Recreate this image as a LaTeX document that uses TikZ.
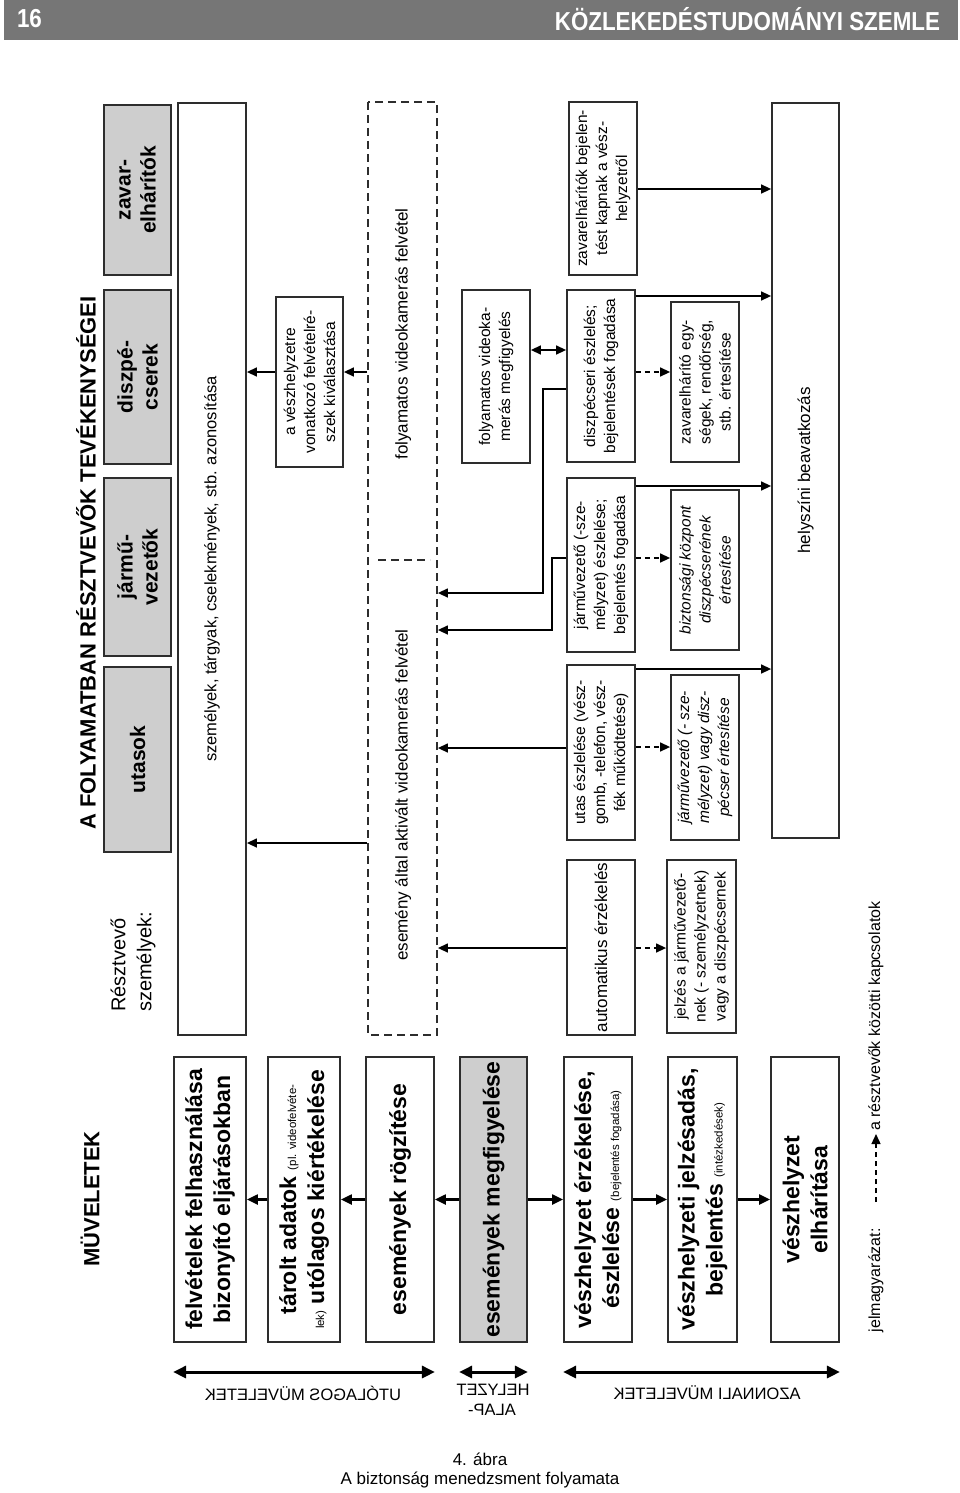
\documentclass[tikz,border=0pt]{standalone}
\usepackage{fontspec}
\setmainfont{Liberation Sans}
\usetikzlibrary{arrows.meta}
\definecolor{boxgray}{RGB}{206,206,206}
\definecolor{headgray}{RGB}{118,118,118}
\definecolor{edge}{RGB}{45,45,45}
\newcommand\fbig{\fontsize{23}{28}\selectfont\bfseries}
\newcommand\fsm{\fontsize{15.5}{20}\selectfont}
\newcommand\fpar{\fontsize{11.5}{13}\selectfont\mdseries}
\newcommand\fpart{\fontsize{21}{25}\selectfont\bfseries}
\newcommand\fmid{\fontsize{17}{20}\selectfont}
\begin{document}
\begin{tikzpicture}[x=1pt,y=-1pt,
  box/.style={draw=edge, line width=1.8pt, rotate=90, inner sep=2pt, align=center},
  sbox/.style={box, font=\fsm},
  bbox/.style={box, font=\fbig, minimum width=285, minimum height=68},
  pbox/.style={box, fill=boxgray, font=\fpart, minimum height=67},
  dbox/.style={draw=edge, line width=1.8pt, dash pattern=on 8pt off 5pt, rotate=90},
  arr/.style={line width=1.4pt, -{Triangle[length=10pt,width=9pt]}},
  darr/.style={arr, dash pattern=on 5pt off 4pt},
  barr/.style={line width=2.2pt, -{Triangle[length=11pt,width=10pt]}},
  dbl/.style={line width=3pt, {Triangle[length=13pt,width=12pt]}-{Triangle[length=13pt,width=12pt]}},
  mirr/.style={xscale=-1, inner sep=0pt, font=\fontsize{16.5}{20}\selectfont},
  rtext/.style={rotate=90, inner sep=0pt},
]
\useasboundingbox (0,0) rectangle (960,1493);
\fill[white] (0,0) rectangle (960,1493);
% header
\fill[headgray] (4,0) rectangle (958,40);
\node[anchor=west, text=white, font=\fontsize{26}{26}\selectfont\bfseries, xscale=0.86] (pnum) at (14,19) {16};
\node[anchor=east, text=white, font=\fontsize{26}{26}\selectfont\bfseries, xscale=0.86] (jname) at (943,19) {KÖZLEKEDÉSTUDOMÁNYI SZEMLE};
% caption
\node[font=\fontsize{17}{20}\selectfont] (cap1) at (480,1459) {4. ábra};
\node[font=\fontsize{17}{20}\selectfont] (cap2) at (480,1480) {A biztonság menedzsment folyamata};
% titles
\node[rtext, font=\fontsize{22}{26}\selectfont\bfseries] (tmuv) at (90,1199) {MÜVELETEK};
\node[rtext, font=\fontsize{22}{26}\selectfont\bfseries] (tres) at (86,563) {A FOLYAMATBAN RÉSZTVEVŐK TEVÉKENYSÉGEI};
\node[rtext, anchor=west, align=left, font=\fontsize{20}{26}\selectfont] (tsz) at (133,1012) {Résztvevő\\személyek:};
% participants
\node[pbox, minimum width=185] (putas) at (137.5,759.5) {utasok};
\node[pbox, minimum width=178] (pjarmu) at (137.5,567) {jármű-\\vezetők};
\node[pbox, minimum width=174] (pdisz) at (137.5,377) {diszpé-\\cserek};
\node[pbox, minimum width=170] (pzavar) at (137.5,190) {zavar-\\elhárítók};
% left column
\node[sbox, minimum width=932, minimum height=68, font=\fontsize{16.5}{20}\selectfont] (azon) at (212,569) {személyek, tárgyak, cselekmények, stb. azonosítása};
\node[sbox, minimum width=170, minimum height=67] (kiv) at (309.5,382) {a vészhelyzetre\\vonatkozó felvételré-\\szek kiválasztása};
\node[dbox, minimum width=933, minimum height=69] (dash) at (402.5,568.5) {};
\node[rtext, font=\fmid] (dtop) at (403,334) {folyamatos videokamerás felvétel};
\node[rtext, font=\fmid] (dbot) at (403,795) {esemény által aktivált videokamerás felvétel};
\draw[draw=edge, line width=1.8pt, dash pattern=on 8pt off 5pt] (378,560) -- (430,560);
\node[sbox, minimum width=173, minimum height=68] (fvm) at (496,376.5) {folyamatos videoka-\\merás megfigyelés};
% right group
\node[sbox, minimum width=173, minimum height=68] (zb) at (603,188.5) {zavarelhárítók bejelen-\\tést kapnak a vész-\\helyzetről};
\node[sbox, minimum width=172, minimum height=68] (dsz) at (601,376) {diszpécseri észlelés;\\bejelentések fogadása};
\node[sbox, minimum width=174, minimum height=68] (jsz) at (601,565) {járművezető (-sze-\\mélyzet) észlelése;\\bejelentés fogadása};
\node[sbox, minimum width=175, minimum height=68] (ut) at (601,752.5) {utas észlelése (vész-\\gomb, -telefon, vész-\\fék működtetése)};
\node[sbox, minimum width=175, minimum height=68, font=\fmid] (aut) at (601,947.5) {automatikus érzékelés};
% next column
\node[sbox, minimum width=160, minimum height=68] (zeg) at (705,382) {zavarelhárító egy-\\ségek, rendőrség,\\stb. értesítése};
\node[sbox, minimum width=160, minimum height=68, font=\fsm\itshape] (bk) at (705,570) {biztonsági központ\\diszpécserének\\értesítése};
\node[sbox, minimum width=165, minimum height=68, font=\fsm\itshape] (jv) at (705,757.5) {járművezető (- sze-\\mélyzet) vagy disz-\\pécser értesítése};
\node[sbox, minimum width=173, minimum height=69] (jel) at (701.5,946.5) {jelzés a járművezető-\\nek (- személyzetnek)\\vagy a diszpécsernek};
\node[sbox, minimum width=735, minimum height=67, font=\fmid] (hb) at (805.5,470.5) {helyszíni beavatkozás};
% bottom operations
\node[bbox, minimum height=72] (f1) at (210,1199.5) {felvételek felhasználása\\bizonyító eljárásokban};
\node[bbox, minimum height=72] (f2) at (304,1199.5) {tárolt adatok {\fpar (pl. videofelvéte-}\\{\fpar lek)} utólagos kiértékelése};
\node[bbox] (f3) at (400,1199.5) {események rögzítése};
\node[bbox, minimum height=67, fill=boxgray] (f4) at (493.5,1199.5) {események megfigyelése};
\node[bbox] (f5) at (598,1199.5) {vészhelyzet érzékelése,\\észlelése {\fpar (bejelentés fogadása)}};
\node[bbox, minimum height=69] (f6) at (702.5,1199.5) {vészhelyzeti jelzésadás,\\bejelentés {\fpar (intézkedések)}};
\node[bbox] (f7) at (805,1199.5) {vészhelyzet\\elhárítása};
% connectors
\draw[arr] (dash.north |- 0,843) -- (azon.south |- 0,843);
\draw[arr] (kiv.north |- 0,372) -- (azon.south |- 0,372);
\draw[arr] (dash.north |- 0,372) -- (kiv.south |- 0,372);
\draw[line width=1.4pt, {Triangle[length=10pt,width=9pt]}-{Triangle[length=10pt,width=9pt]}] (fvm.south |- 0,350) -- (dsz.north |- 0,350);
\draw[arr] (dsz.north |- 0,389) -- (543,389) |- (dash.south |- 0,593);
\draw[arr] (jsz.north |- 0,558) -- (552,558) |- (dash.south |- 0,630);
\draw[arr] (ut.north |- 0,748) -- (dash.south |- 0,748);
\draw[arr] (aut.north |- 0,948) -- (dash.south |- 0,948);
\draw[arr] (zb.south |- 0,189) -- (hb.north |- 0,189);
\draw[arr] (dsz.south |- 0,296) -- (hb.north |- 0,296);
\draw[arr] (jsz.south |- 0,486) -- (hb.north |- 0,486);
\draw[arr] (ut.south |- 0,669) -- (hb.north |- 0,669);
\draw[darr] (dsz.south |- 0,372) -- (zeg.north |- 0,372);
\draw[darr] (jsz.south |- 0,558) -- (bk.north |- 0,558);
\draw[darr] (ut.south |- 0,747) -- (jv.north |- 0,747);
\draw[darr] (aut.south |- 0,948) -- (jel.north |- 0,948);
\draw[barr] (f2.north) -- (f1.south);
\draw[barr] (f3.north) -- (f2.south);
\draw[barr] (f4.north) -- (f3.south);
\draw[barr] (f4.south) -- (f5.north);
\draw[barr] (f5.south) -- (f6.north);
\draw[barr] (f6.south) -- (f7.north);
% phase arrows
\draw[dbl] (f1.north west |- 0,1372) -- (f3.south west |- 0,1372);
\draw[dbl] (f4.north west |- 0,1372) -- (f4.south west |- 0,1372);
\draw[dbl] (f5.north west |- 0,1372) -- (f7.south west |- 0,1372);
\node[mirr] (lut) at (303,1393) {UTÓLAGOS MÜVELETEK};
\node[mirr] (lhely) at (493,1390) {HELYZET};
\node[mirr] (lalap) at (492,1410) {ALAP-};
\node[mirr] (lazon) at (707,1393) {AZONNALI MÜVELETEK};
% legend
\node[rtext, anchor=east, font=\fontsize{16}{20}\selectfont] (jm) at (876,1228) {jelmagyarázat:};
\node[rtext, anchor=west, font=\fontsize{16}{20}\selectfont] (rk) at (876,1131) {a résztvevők közötti kapcsolatok};
\draw[darr, shorten <=26pt, shorten >=3pt] (jm.east) -- (rk.west);
\end{tikzpicture}
\end{document}
